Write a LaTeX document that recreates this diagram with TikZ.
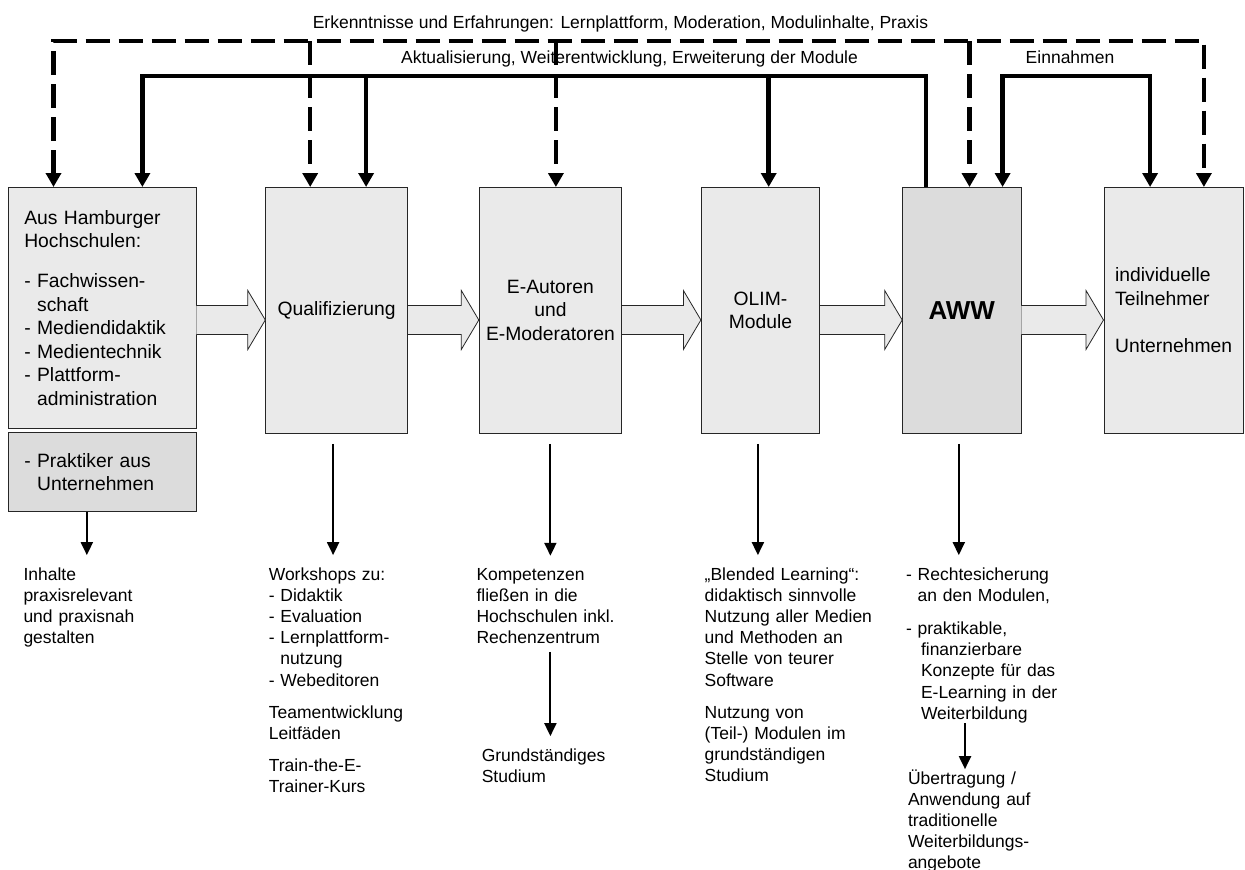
\documentclass[tikz,border=0pt]{standalone}
\usepackage{fontspec}
\setmainfont{Liberation Sans}
\usetikzlibrary{arrows.meta,calc}
\definecolor{lightbox}{HTML}{EAEAEA}
\definecolor{darkbox}{HTML}{DCDCDC}
\newcommand{\boxfont}{\fontsize{19.3pt}{23.6pt}\selectfont}
\newcommand{\notefont}{\fontsize{17.5pt}{21.2pt}\selectfont}
\newcommand{\listindent}{\phantom{- }}
\newcommand{\flowarrow}[2]{%
 \draw[flow] ($(#1.east |- midline)+(0,-14.5)$) -- ($(#2.west |- midline)+(-17.5,-14.5)$)%
  -- ($(#2.west |- midline)+(-17.5,-29.5)$) -- (#2.west |- midline)%
  -- ($(#2.west |- midline)+(-17.5,29.5)$) -- ($(#2.west |- midline)+(-17.5,14.5)$)%
  -- ($(#1.east |- midline)+(0,14.5)$);%
}

\begin{document}
\begin{tikzpicture}[x=1pt,y=-1pt,
   box/.style={draw=black!85,line width=0.8pt,fill=lightbox,anchor=north west,inner sep=0pt,font=\boxfont,minimum height=246pt},
   flow/.style={draw=black!85,line width=0.8pt,fill=lightbox},
   note/.style={anchor=base west,inner sep=0pt,text width=200pt,align=left,font=\notefont},
   toptext/.style={anchor=base,inner sep=0pt,font=\notefont},
   heavy/.style={line width=4.5pt,>={Triangle[length=14pt,width=15pt]}},
   fbl/.style={heavy,dash pattern=on 24pt off 9pt},
   res/.style={line width=2pt,-{Triangle[length=13pt,width=12pt]}}]
   \useasboundingbox (0,0) rectangle (1245,870);
   \coordinate (midline) at (0,320);
   \coordinate (fbtrunk) at (0,41);
   \coordinate (updtrunk) at (0,76);

   \node[box,minimum width=187.3pt,minimum height=241pt,text width=156pt,align=left] (hh) at (8.2,187)
      {Aus Hamburger\\Hochschulen:\\[16pt]- Fachwissen-\\\listindent schaft\\- Mediendidaktik\\- Medientechnik\\- Plattform-\\\listindent administration};
   \node[box,minimum width=187.3pt,minimum height=79pt,text width=156pt,align=left,fill=darkbox] (pr) at (8.2,432)
      {- Praktiker aus\\\listindent Unternehmen};
   \node[box,minimum width=142pt] (quali) at (265.3,187) {Qualifizierung};
   \node[box,minimum width=142.4pt,align=center] (autor) at (478.8,187) {E-Autoren\\und\\E-Moderatoren};
   \node[box,minimum width=118.4pt,align=center] (olim) at (700.9,187) {OLIM-\\Module};
   \node[box,minimum width=118.4pt,fill=darkbox,font=\fontsize{26pt}{30pt}\selectfont\bfseries] (aww) at (902.2,187) {AWW};
   \node[box,minimum width=139.5pt,align=left] (tn) at (1103.5,187)
      {individuelle\\Teilnehmer\\[24pt]Unternehmen};

   \flowarrow{hh}{quali}
   \flowarrow{quali}{autor}
   \flowarrow{autor}{olim}
   \flowarrow{olim}{aww}
   \flowarrow{aww}{tn}

   \node[toptext] (erk) at (620.5,28.5) {Erkenntnisse und Erfahrungen: Lernplattform, Moderation, Modulinhalte, Praxis};
   \node[toptext] (akt) at (629.5,63.5) {Aktualisierung, Weiterentwicklung, Erweiterung der Module};
   \node[toptext] (ein) at (1070,63.5) {Einnahmen};

   \draw[fbl,<->] ([xshift=45.3pt]hh.north west) -- ([xshift=45.3pt]hh.north west |- fbtrunk) -| ([xshift=100.4pt]tn.north west);
   \draw[fbl,->] ([xshift=44.9pt]quali.north west |- fbtrunk) -- ([xshift=44.9pt]quali.north west);
   \draw[fbl,->] ([xshift=77.1pt]autor.north west |- fbtrunk) -- ([xshift=77.1pt]autor.north west);
   \draw[fbl,->] ([xshift=67.3pt]aww.north west |- fbtrunk) -- ([xshift=67.3pt]aww.north west);

   \draw[heavy,->] ([xshift=23.9pt]aww.north west) -- ([xshift=23.9pt]aww.north west |- updtrunk) -| ([xshift=134.2pt]hh.north west);
   \draw[heavy,->] ([xshift=100.8pt]quali.north west |- updtrunk) -- ([xshift=100.8pt]quali.north west);
   \draw[heavy,->] ([xshift=67.8pt]olim.north west |- updtrunk) -- ([xshift=67.8pt]olim.north west);
   \draw[heavy,<->] ([xshift=100.4pt]aww.north west) -- ([xshift=100.4pt]aww.north west |- updtrunk) -| ([xshift=46.6pt]tn.north west);

   \node[note] (inh) at (23.3,580) {Inhalte\\praxisrelevant\\und praxisnah\\gestalten};
   \node[note] (work) at (268.6,580) {Workshops zu:\\- Didaktik\\- Evaluation\\- Lernplattform-\\\listindent nutzung\\- Webeditoren\\[11pt]Teamentwicklung\\Leitfäden\\[11pt]Train-the-E-\\Trainer-Kurs};
   \node[note] (komp) at (476.3,580) {Kompetenzen\\fließen in die\\Hochschulen inkl.\\Rechenzentrum};
   \node[note] (grund) at (481.6,761) {Grundständiges\\Studium};
   \node[note] (blend) at (704.5,580) {„Blended Learning“:\\didaktisch sinnvolle\\Nutzung aller Medien\\und Methoden an\\Stelle von teurer\\Software\\[11pt]Nutzung von\\(Teil-) Modulen im\\grundständigen\\Studium};
   \node[note] (recht) at (905.8,580) {- Rechtesicherung\\\listindent an den Modulen,\\[12pt]- praktikable,\\\hspace*{15pt}finanzierbare\\\hspace*{15pt}Konzepte für das\\\hspace*{15pt}E-Learning in der\\\hspace*{15pt}Weiterbildung};
   \node[note] (uebertr) at (907.8,784) {Übertragung /\\Anwendung auf\\traditionelle\\Weiterbildungs-\\angebote};

   \draw[res,shorten >=12pt] ([xshift=-15.4pt]pr.south) -- ([xshift=-15.4pt]pr.south |- inh.north);
   \draw[res,shorten <=10pt,shorten >=12pt] ([xshift=-3.6pt]quali.south) -- ([xshift=-3.6pt]quali.south |- work.north);
   \draw[res,shorten <=10pt,shorten >=12pt] (autor.south) -- (autor.south |- komp.north);
   \draw[res,shorten <=10pt,shorten >=12pt] ([xshift=-2.6pt]olim.south) -- ([xshift=-2.6pt]olim.south |- blend.north);
   \draw[res,shorten <=10pt,shorten >=12pt] ([xshift=-3pt]aww.south) -- ([xshift=-3pt]aww.south |- recht.north);
   \draw[res,shorten <=8pt,shorten >=12pt] (komp.south -| autor.south) -- (grund.north -| autor.south);
   \draw[res] ([xshift=59.2pt]recht.south west) -- ([xshift=59.2pt]recht.south west |- uebertr.north);
\end{tikzpicture}
\end{document}
